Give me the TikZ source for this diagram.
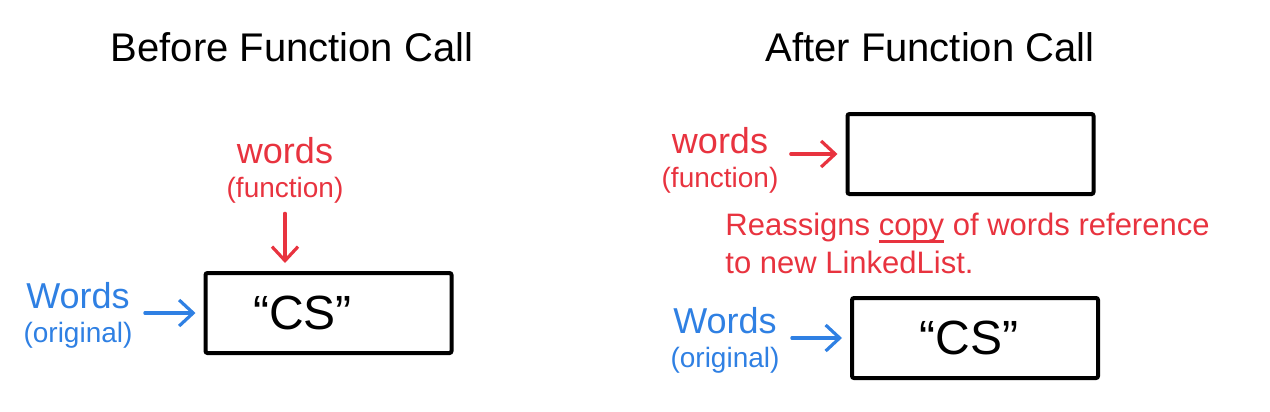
\documentclass[tikz,border=0pt]{standalone}
\usepackage{fontspec}
\setmainfont{Liberation Sans}
\usetikzlibrary{arrows.meta}
\definecolor{hred}{HTML}{E8333F}
\definecolor{hblue}{HTML}{2F80E3}
\newcommand\thickul[1]{{\setbox0\hbox{#1}\rlap{\rule[-3.5pt]{\wd0}{1.3pt}}#1}}
\begin{document}
\begin{tikzpicture}[x=0.5pt,y=-0.5pt,
  membox/.style={draw=black,line width=2pt,rounded corners=1pt,minimum width=123pt,minimum height=40pt,inner sep=0pt,font=\fontsize{24}{26}\selectfont},
  titletext/.style={font=\fontsize{20}{24}\selectfont},
  lbl/.style={align=center,inner sep=1pt},
  ptr/.style={line width=1.6pt,line cap=round,-{Straight Barb[length=7pt,width=13pt,line width=1.6pt]}},
  note/.style={align=left,anchor=north west,inner sep=0pt,text=hred,font=\fontsize{15.5}{19}\selectfont}
]
\useasboundingbox (0,0) rectangle (1270,412);
% titles
\node[titletext] (t1) at (292,47) {Before Function Call};
\node[titletext] (t2) at (930,47) {After Function Call};
% left side
\node[membox] (boxL) at (328.5,313) {“CS”\hspace*{26pt}};
\node[lbl,text=hred] (funcL) at (285,170) {{\fontsize{18}{20}\selectfont words}\\[5pt]{\fontsize{14}{16}\selectfont (function)}};
\node[lbl,text=hblue] (origL) at (78,315) {{\fontsize{18}{20}\selectfont Words}\\[5pt]{\fontsize{14}{16}\selectfont (original)}};
\draw[ptr,hred,shorten <=4pt,shorten >=4pt] (funcL.south) -- (funcL.south |- boxL.north);
\draw[ptr,hblue,shorten <=5pt,shorten >=4pt] (origL.east |- boxL.west) -- (boxL.west);
% right side
\node[membox] (boxF) at (970.5,154) {};
\node[membox] (boxO) at (975,338) {“CS”\hspace*{6pt}};
\node[lbl,text=hred] (funcR) at (720,160) {{\fontsize{18}{20}\selectfont words}\\[5pt]{\fontsize{14}{16}\selectfont (function)}};
\node[lbl,text=hblue] (origR) at (725,340) {{\fontsize{18}{20}\selectfont Words}\\[5pt]{\fontsize{14}{16}\selectfont (original)}};
\draw[ptr,hred,shorten <=5pt,shorten >=4pt] (funcR.east |- boxF.west) -- (boxF.west);
\draw[ptr,hblue,shorten <=5pt,shorten >=4pt] (origR.east |- boxO.west) -- (boxO.west);
\node[note] (reassign) at (725,213) {Reassigns \thickul{copy} of words reference\\ to new LinkedList.};
\end{tikzpicture}
\end{document}
